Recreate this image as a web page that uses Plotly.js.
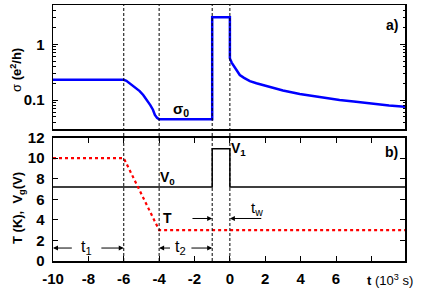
<!DOCTYPE html>
<html>
<head>
<meta charset="utf-8">
<script src="https://cdn.plot.ly/plotly-3.0.1.min.js"></script>
<style>html,body{margin:0;padding:0;background:#fff;}#chart{width:425px;height:300px;}</style>
</head>
<body>
<div id="chart"></div>
<script>
// conductance sigma (e^2/h) vs time (10^3 s)
const sigmaT = [-10, -6, -5.85, -5.65, -5.45, -5.27, -5.1, -4.9, -4.7, -4.5, -4.35, -4.24, -4.12, -4.05, -4.0, -1, -1, 0, 0, 0.1, 0.2, 0.35, 0.56, 0.8, 1.13, 1.5, 2.07, 3, 3.95, 5, 6.2, 7, 8, 9, 9.9];
const sigmaV = [0.231, 0.231, 0.222, 0.2, 0.18, 0.162, 0.145, 0.123, 0.102, 0.081, 0.067, 0.054, 0.048, 0.046, 0.045, 0.045, 3.05, 3.05, 0.56, 0.47, 0.42, 0.35, 0.281, 0.25, 0.219, 0.2, 0.178, 0.148, 0.128, 0.113, 0.1, 0.094, 0.086, 0.08, 0.076];
// gate voltage Vg (V)
const vgT = [-10, -1, -1, 0, 0, 9.9];
const vgV = [7.2, 7.2, 10.9, 10.9, 7.2, 7.2];
// temperature T (K)
const tempT = [-10, -6, -4, 9.9];
const tempV = [10, 10, 3, 3];
// marker times (dashed lines)
const markTimes = [-6, -4, -1, 0];
// tick labels
const xTickVals = [-10, -8, -6, -4, -2, 0, 2, 4, 6, 8];
const xTickText = ['-10', '-8', '-6', '-4', '-2', '0', '2', '4', '6', ''];
const yTopVals = [0.1, 1];
const yTopText = ['0.1', '1'];
const yBotVals = [0, 2, 4, 6, 8, 10, 12];

const F = 'Liberation Sans, Arial, sans-serif';
const tickFont = {family: F, size: 15, color: '#000', weight: 'bold'};

const ML = 53, MR = 20, MT = 5, MB = 39, W = 425, H = 300;
const PW = W - ML - MR, PH = H - MT - MB;
const px = v => (v - ML) / PW;
const py = v => (H - MB - v) / PH;

const traces = [
  {x: sigmaT, y: sigmaV, xaxis: 'x2', yaxis: 'y2', mode: 'lines', line: {color: '#0000ff', width: 2.5}, hoverinfo: 'skip'},
  {x: vgT, y: vgV, xaxis: 'x', yaxis: 'y', mode: 'lines', line: {color: '#000', width: 1.5}, hoverinfo: 'skip'},
  {x: tempT, y: tempV, xaxis: 'x', yaxis: 'y', mode: 'lines', line: {color: '#ff0000', width: 2.2, dash: 'dot'}, hoverinfo: 'skip'}
];

const shapes = markTimes.map(t => ({type: 'line', xref: 'x', yref: 'paper', x0: t, x1: t, y0: 0, y1: 1, line: {color: '#000', width: 1, dash: '3px,2px'}, layer: 'above'}));

function arrow(xh, yh, xt, yt) {
  return {x: xh, y: yh, ax: xt, ay: yt, xref: 'x', yref: 'y', axref: 'x', ayref: 'y', text: '', showarrow: true, arrowhead: 2, arrowsize: 1, arrowwidth: 1, arrowcolor: '#000', standoff: 0, startstandoff: 0};
}
function label(text, x, y, xref, yref, size, bold, extra) {
  return Object.assign({x: x, y: y, xref: xref, yref: yref, text: text, showarrow: false, xanchor: 'center', yanchor: 'middle', font: {family: F, size: size, color: '#000', weight: bold ? 'bold' : 'normal'}}, extra || {});
}

const annotations = [
  label('a)', px(391.5), py(25), 'paper', 'paper', 14, true),
  label('b)', px(391), py(151.5), 'paper', 'paper', 14, true),
  label('σ<sub>0</sub>', -2.75, Math.log10(0.069), 'x2', 'y2', 15, true),
  label('V<sub>0</sub>', -3.5, 8.1, 'x', 'y', 14, true),
  label('V<sub>1</sub>', 0.5, 10.9, 'x', 'y', 14, true),
  label('T', -3.55, 4.15, 'x', 'y', 14, true),
  label('t<sub>w</sub>', 1.55, 5.1, 'x', 'y', 15, false),
  label('t<sub>1</sub>', -8.1, 1.35, 'x', 'y', 16, false),
  label('t<sub>2</sub>', -2.8, 1.35, 'x', 'y', 16, false),
  arrow(-10, 1.26, -8.85, 1.26),
  arrow(-6, 1.26, -7.35, 1.26),
  arrow(-4, 1.26, -3.3, 1.26),
  arrow(-1, 1.26, -2.26, 1.26),
  arrow(-1, 4.13, -2.2, 4.13),
  arrow(0, 4.13, 1.86, 4.13),
  label('σ <b>(e<sup>2</sup>/h)</b>', px(16), py(70), 'paper', 'paper', 13, false, {textangle: -90}),
  label('<b>T (K),  V<sub>g</sub>(V)</b>', px(18), py(208), 'paper', 'paper', 13, false, {textangle: -90}),
  label('<b>t</b> (10<sup>3</sup> s)', px(390), py(280), 'paper', 'paper', 13, false)
];

const axLine = {showline: true, linecolor: '#000', linewidth: 1.5, zeroline: false, showgrid: false, fixedrange: true};

const layout = {
  width: W, height: H,
  margin: {l: ML, r: MR, t: MT, b: MB},
  paper_bgcolor: '#fff', plot_bgcolor: '#fff',
  showlegend: false,
  font: {family: F, color: '#000'},
  xaxis: Object.assign({}, axLine, {anchor: 'y', domain: [0, 1], range: [-10, 9.9], tickmode: 'array', tickvals: xTickVals, ticktext: xTickText, ticks: 'inside', ticklen: 5, tickwidth: 1, tickcolor: '#000', mirror: 'ticks', tickfont: tickFont, ticklabelstandoff: 3}),
  xaxis2: Object.assign({}, axLine, {anchor: 'y2', domain: [0, 1], range: [-10, 9.9], matches: 'x', showticklabels: false, ticks: '', mirror: true}),
  yaxis: Object.assign({}, axLine, {anchor: 'x', domain: [0, 0.4824], range: [0, 12], tickmode: 'array', tickvals: yBotVals, ticks: 'inside', ticklen: 5, tickwidth: 1, tickcolor: '#000', mirror: 'ticks', tickfont: tickFont, ticklabelstandoff: 4}),
  yaxis2: Object.assign({}, axLine, {anchor: 'x2', domain: [0.5156, 1], type: 'log', range: [-1.52, 0.706], tickmode: 'array', tickvals: yTopVals, ticktext: yTopText, ticks: 'inside', ticklen: 5, tickwidth: 1, tickcolor: '#000', mirror: 'ticks', tickfont: tickFont, ticklabelstandoff: 4,
    minor: {ticks: 'inside', ticklen: 2.5, tickwidth: 1, tickcolor: '#000', dtick: 'D1', showgrid: false}}),
  shapes: shapes,
  annotations: annotations
};

Plotly.newPlot('chart', traces, layout, {staticPlot: true, displayModeBar: false});
</script>
</body>
</html>
